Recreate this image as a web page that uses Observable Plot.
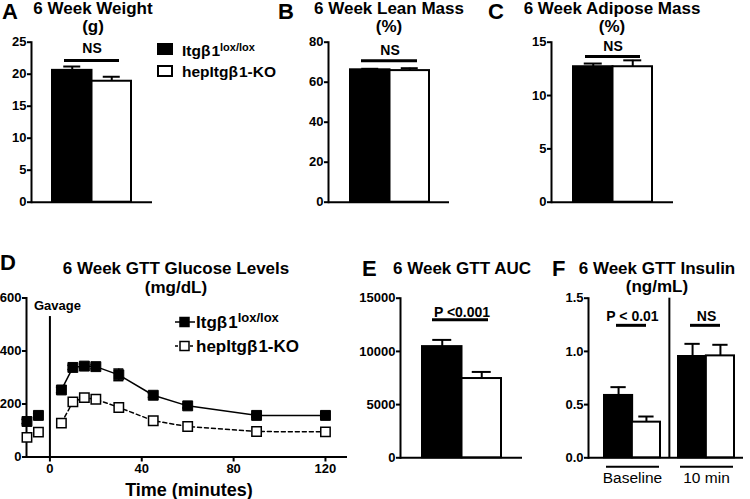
<!DOCTYPE html>
<html><head><meta charset="utf-8">
<script src="https://cdn.jsdelivr.net/npm/d3@7"></script>
<script src="https://cdn.jsdelivr.net/npm/@observablehq/plot@0.6"></script>
<style>
body{margin:0;background:#fff;}
#root{position:relative;width:750px;height:499px;overflow:hidden;font-family:"Liberation Sans",Arial,Helvetica,sans-serif;color:#000;background:#fff;}
.abs{position:absolute;white-space:nowrap;}
.title{font-weight:bold;font-size:17px;line-height:18.5px;text-align:center;transform:translateX(-50%);}
.letter{font-weight:bold;font-size:22px;line-height:22px;}
.sup{position:relative;top:-0.45em;}
</style></head><body><div id="root"></div><script>
// ---------- data ----------
const genotypeNames = [["Itgβ1", "lox/lox"], ["hepItgβ1-KO", ""]];
const weightGroups = ["6 Week"];
const weightLox = [20.6], weightLoxSem = [0.6];
const weightKo = [18.9], weightKoSem = [0.7];
const weightTicks = [0, 5, 10, 15, 20, 25];

const leanGroups = ["6 Week"];
const leanLox = [66.2], leanLoxSem = [0.5];
const leanKo = [65.8], leanKoSem = [1.2];
const leanTicks = [0, 20, 40, 60, 80];

const adiposeGroups = ["6 Week"];
const adiposeLox = [12.7], adiposeLoxSem = [0.3];
const adiposeKo = [12.7], adiposeKoSem = [0.6];
const adiposeTicks = [0, 5, 10, 15];

const aucGroups = ["6 Week"];
const aucLox = [10450], aucLoxSem = [630];
const aucKo = [7450], aucKoSem = [620];
const aucTicks = [0, 5000, 10000, 15000];

const insulinGroups = ["Baseline", "10 min"];
const insulinLox = [0.586, 0.952], insulinLoxSem = [0.078, 0.119];
const insulinKo = [0.335, 0.958], insulinKoSem = [0.053, 0.104];
const insulinTicks = [0, 0.5, 1.0, 1.5];

const gttTimes = [-10, -5, 5, 10, 15, 20, 30, 45, 60, 90, 120];
const gttLox = [134, 157, 253, 338, 343, 341, 310, 233, 193, 157, 157];
const gttLoxSem = [8, 8, 10, 8, 8, 8, 22, 8, 8, 6, 6];
const gttKo = [74, 94, 128, 208, 224, 218, 187, 137, 115, 96, 95];
const gttKoSem = [6, 6, 8, 8, 8, 6, 6, 6, 6, 5, 5];
const gttXTicks = [0, 40, 80, 120];
const gttYTicks = [0, 200, 400, 600];
const gavage = [{time: 0, top: 530, labelY: 572, label: "Gavage"}];

const sigWeight = {labels: ["NS"], lineY: [22.14], textY: [24.0]};
const sigLean = {labels: ["NS"], lineY: [70.7], textY: [75.9]};
const sigAdipose = {labels: ["NS"], lineY: [13.66], textY: [14.58]};
const sigAuc = {labels: ["P <0.001"], lineY: [12970], textY: [13680]};
const sigInsulin = {labels: ["P < 0.01", "NS"], lineY: [1.245, 1.245], textY: [1.33, 1.33]};

// ---------- helpers ----------
const FONT = "'Liberation Sans', Arial, Helvetica, sans-serif";
const root = document.getElementById("root");
const STYLE = {background: "transparent", fontFamily: FONT, fontSize: "13px", fontWeight: "bold", color: "black", overflow: "visible"};

function place(el, left, top) {
  el.style.position = "absolute";
  el.style.left = left + "px";
  el.style.top = top + "px";
  root.appendChild(el);
  return el;
}
function html(str, cls, left, top, extraStyle = "") {
  const d = document.createElement("div");
  d.className = "abs " + (cls || "");
  d.innerHTML = str;
  if (extraStyle) d.style.cssText = extraStyle;
  return place(d, left, top);
}

function barPanel(cfg) {
  const {groups, lox, loxSem, ko, koSem, range, paddingInner = 0, capW = 18, sig,
         yDomain, yTicks, yFormat, width, height, ml, mr, mt, mb, sigInsets = [12, 12], extra} = cfg;
  const n = groups.length;
  const step = (range[1] - range[0]) / (n - paddingInner);
  const bw = step * (1 - paddingInner);
  const rows = groups.map((g, i) => ({group: g, lox: lox[i], loxTop: lox[i] + loxSem[i], ko: ko[i], koTop: ko[i] + koSem[i]}));
  const sigRows = sig.labels.map((l, i) => ({group: groups[i], label: l, lineY: sig.lineY[i], textY: sig.textY[i]}));
  const marks = [
    Plot.axisY({ticks: yTicks, tickFormat: yFormat, tickSize: 4, tickPadding: 1, strokeWidth: 2, fontSize: 13, fontWeight: "bold", label: null}),
    Plot.frame({anchor: "left", strokeWidth: 2}),
    Plot.ruleY([yDomain[0]], {strokeWidth: 2}),
    Plot.ruleX(rows, {x: "group", y1: "lox", y2: "loxTop", dx: -bw / 4, strokeWidth: 2}),
    Plot.ruleX(rows, {x: "group", y1: "ko", y2: "koTop", dx: bw / 4, strokeWidth: 2}),
    Plot.tickY(rows, {x: "group", y: "loxTop", insetLeft: bw / 4 - capW / 2, insetRight: 3 * bw / 4 - capW / 2, strokeWidth: 2}),
    Plot.tickY(rows, {x: "group", y: "koTop", insetLeft: 3 * bw / 4 - capW / 2, insetRight: bw / 4 - capW / 2, strokeWidth: 2}),
    Plot.barY(rows, {x: "group", y: "lox", fill: "black", stroke: "black", strokeWidth: 2, insetRight: bw / 2}),
    Plot.barY(rows, {x: "group", y: "ko", fill: "white", stroke: "black", strokeWidth: 2, insetLeft: bw / 2}),
    Plot.tickY(sigRows, {x: "group", y: "lineY", insetLeft: sigInsets[0], insetRight: sigInsets[1], strokeWidth: 3}),
    Plot.text(sigRows, {x: "group", y: "textY", text: "label", fontSize: 14, fontWeight: "bold"})
  ];
  if (extra) marks.push(...extra(bw, step));
  return Plot.plot({
    width, height, marginLeft: ml, marginRight: mr, marginTop: mt, marginBottom: mb,
    x: {type: "band", domain: groups, range, paddingInner, paddingOuter: 0, axis: null},
    y: {domain: yDomain},
    style: STYLE,
    marks
  });
}

// ---------- panel A ----------
place(barPanel({groups: weightGroups, lox: weightLox, loxSem: weightLoxSem, ko: weightKo, koSem: weightKoSem,
  range: [52, 131], capW: 17, sig: sigWeight, yDomain: [0, 25], yTicks: weightTicks, yFormat: d3.format("d"),
  width: 160, height: 190, ml: 31, mr: 8, mt: 11.7, mb: 18.3}), 0, 30);
// ---------- panel B ----------
place(barPanel({groups: leanGroups, lox: leanLox, loxSem: leanLoxSem, ko: leanKo, koSem: leanKoSem,
  range: [70, 149], capW: 17, sig: sigLean, yDomain: [0, 80], yTicks: leanTicks, yFormat: d3.format("d"),
  width: 175, height: 190, ml: 48, mr: 6, mt: 11.7, mb: 18.3, sigInsets: [11, 12]}), 280, 30);
// ---------- panel C ----------
place(barPanel({groups: adiposeGroups, lox: adiposeLox, loxSem: adiposeLoxSem, ko: adiposeKo, koSem: adiposeKoSem,
  range: [73, 152], capW: 18, sig: sigAdipose, yDomain: [0, 15], yTicks: adiposeTicks, yFormat: d3.format("d"),
  width: 180, height: 190, ml: 51, mr: 7, mt: 11.7, mb: 18.3}), 500, 30);
// ---------- panel E ----------
place(barPanel({groups: aucGroups, lox: aucLox, loxSem: aucLoxSem, ko: aucKo, koSem: aucKoSem,
  range: [72, 151], capW: 19, sig: sigAuc, yDomain: [0, 15000], yTicks: aucTicks, yFormat: d3.format("d"),
  width: 180, height: 190, ml: 50, mr: 8, mt: 17.7, mb: 12.7, sigInsets: [10, 13]}), 350, 280);
// ---------- panel F ----------
place(barPanel({groups: insulinGroups, lox: insulinLox, loxSem: insulinLoxSem, ko: insulinKo, koSem: insulinKoSem,
  range: [64, 194], paddingInner: 0.25, capW: 15, sig: sigInsulin, yDomain: [0, 1.5], yTicks: insulinTicks, yFormat: d3.format(".1f"),
  width: 210, height: 219, ml: 48, mr: 7, mt: 17.7, mb: 41.7, sigInsets: [12, 14],
  extra: (bw, step) => [
    Plot.ruleX([insulinGroups[1]], {x: d => d, y1: () => 0, y2: () => 1.5, dx: -(bw / 2 + (step - bw) / 2), strokeWidth: 2}),
    Plot.tickY(insulinGroups, {x: d => d, y: () => 0, dy: 9, insetLeft: 2, insetRight: 1, strokeWidth: 2}),
    Plot.text(insulinGroups, {x: d => d, text: d => d, frameAnchor: "bottom", lineAnchor: "middle", dy: 20.5, fontSize: 15.5, fontWeight: "normal"})
  ]}), 540, 280);

// ---------- panel D ----------
const gttRows = gttTimes.map((t, i) => ({t, lox: gttLox[i], loxLo: gttLox[i] - gttLoxSem[i], loxHi: gttLox[i] + gttLoxSem[i],
  ko: gttKo[i], koLo: gttKo[i] - gttKoSem[i], koHi: gttKo[i] + gttKoSem[i]}));
const postRows = gttRows.filter(d => d.t > gavage[0].time);
const plotD = Plot.plot({
  width: 360, height: 200, marginLeft: 26, marginRight: 13, marginTop: 17.5, marginBottom: 23.5,
  x: {domain: [-10.2, 129.6]}, y: {domain: [0, 600]},
  style: STYLE,
  marks: [
    Plot.axisY({ticks: gttYTicks, tickSize: 4, tickPadding: 1, strokeWidth: 2, fontSize: 13, fontWeight: "bold", label: null}),
    Plot.axisX({ticks: gttXTicks, tickSize: 5, tickPadding: 2, strokeWidth: 2, fontSize: 13, fontWeight: "bold", label: null}),
    Plot.frame({anchor: "left", strokeWidth: 2}),
    Plot.ruleY([0], {strokeWidth: 2}),
    Plot.ruleX(gavage, {x: "time", y1: () => 0, y2: "top", strokeWidth: 2}),
    Plot.text(gavage, {x: "time", y: "labelY", text: "label", dx: 7.5, fontSize: 13, fontWeight: "bold"}),
    Plot.line(postRows, {x: "t", y: "ko", stroke: "black", strokeWidth: 1.5, strokeDasharray: "4,3"}),
    Plot.line(postRows, {x: "t", y: "lox", stroke: "black", strokeWidth: 1.5}),
    Plot.ruleX(gttRows, {x: "t", y1: "koLo", y2: "koHi", strokeWidth: 1.5}),
    Plot.ruleX(gttRows, {x: "t", y1: "loxLo", y2: "loxHi", strokeWidth: 1.5}),
    Plot.ruleY(gttRows, {x1: "t", x2: "t", y: "loxHi", insetLeft: -5, insetRight: -5, strokeWidth: 1.5}),
    Plot.ruleY(gttRows, {x1: "t", x2: "t", y: "loxLo", insetLeft: -5, insetRight: -5, strokeWidth: 1.5}),
    Plot.dot(gttRows, {x: "t", y: "ko", symbol: "square", r: 5.3, fill: "white", stroke: "black", strokeWidth: 1.5}),
    Plot.dot(gttRows, {x: "t", y: "lox", symbol: "square", r: 5.6, fill: "black", stroke: "black", strokeWidth: 1})
  ]
});
place(plotD, 0, 280);

// ---------- titles and letters ----------
html("A", "letter", 2, 1.3);
html("B", "letter", 278, 1.3);
html("C", "letter", 488, 1.3);
html("D", "letter", 0, 251.8);
html("E", "letter", 362, 258);
html("F", "letter", 552, 258);
html("6 Week Weight<br>(g)", "title", 93, -0.5);
html("6 Week Lean Mass<br>(%)", "title", 389, -0.5);
html("6 Week Adipose Mass<br>(%)", "title", 612, -0.5);
html("6 Week GTT Glucose Levels<br>(mg/dL)", "title", 176, 260);
html("6 Week GTT AUC", "title", 462, 259.5);
html("6 Week GTT Insulin<br>(ng/mL)", "title", 657, 259.5);
html("Time (minutes)", "", 189, 480, "font-weight:bold;font-size:18px;line-height:20px;transform:translateX(-50%);");

// ---------- legend (panel A) ----------
function legText(g, supSize) {
  return `${g[0].replace("β", "β<span style='margin-left:1px'></span>")}${g[1] ? `<span class="sup" style="font-size:${supSize}px">${g[1]}</span>` : ""}`;
}
html("", "", 157, 43, "width:16px;height:12px;background:#000;");
html("", "", 157, 65, "width:16px;height:12px;background:#fff;border:2px solid #000;box-sizing:border-box;");
html(legText(genotypeNames[0], 11), "", 182, 42.5, "font-weight:bold;font-size:15.5px;line-height:15px;");
html(legText(genotypeNames[1], 11), "", 182, 64.2, "font-weight:bold;font-size:15.5px;line-height:15px;");

// ---------- legend (panel D) ----------
function markerSvg(fill, dash) {
  return `<svg width="22" height="12" style="display:block"><line x1="1" y1="6" x2="21" y2="6" stroke="#000" stroke-width="1.5" ${dash ? `stroke-dasharray="${dash}"` : ""}/><rect x="6" y="1.5" width="9" height="9" fill="${fill}" stroke="#000" stroke-width="1.5"/></svg>`;
}
html(markerSvg("#000", null), "", 174, 316);
html(markerSvg("#fff", "3,2"), "", 174, 340);
html(legText(genotypeNames[0], 13), "", 196, 313.5, "font-weight:bold;font-size:17px;line-height:17px;");
html(legText(genotypeNames[1], 13), "", 196, 337.5, "font-weight:bold;font-size:17px;line-height:17px;");
</script></body></html>
